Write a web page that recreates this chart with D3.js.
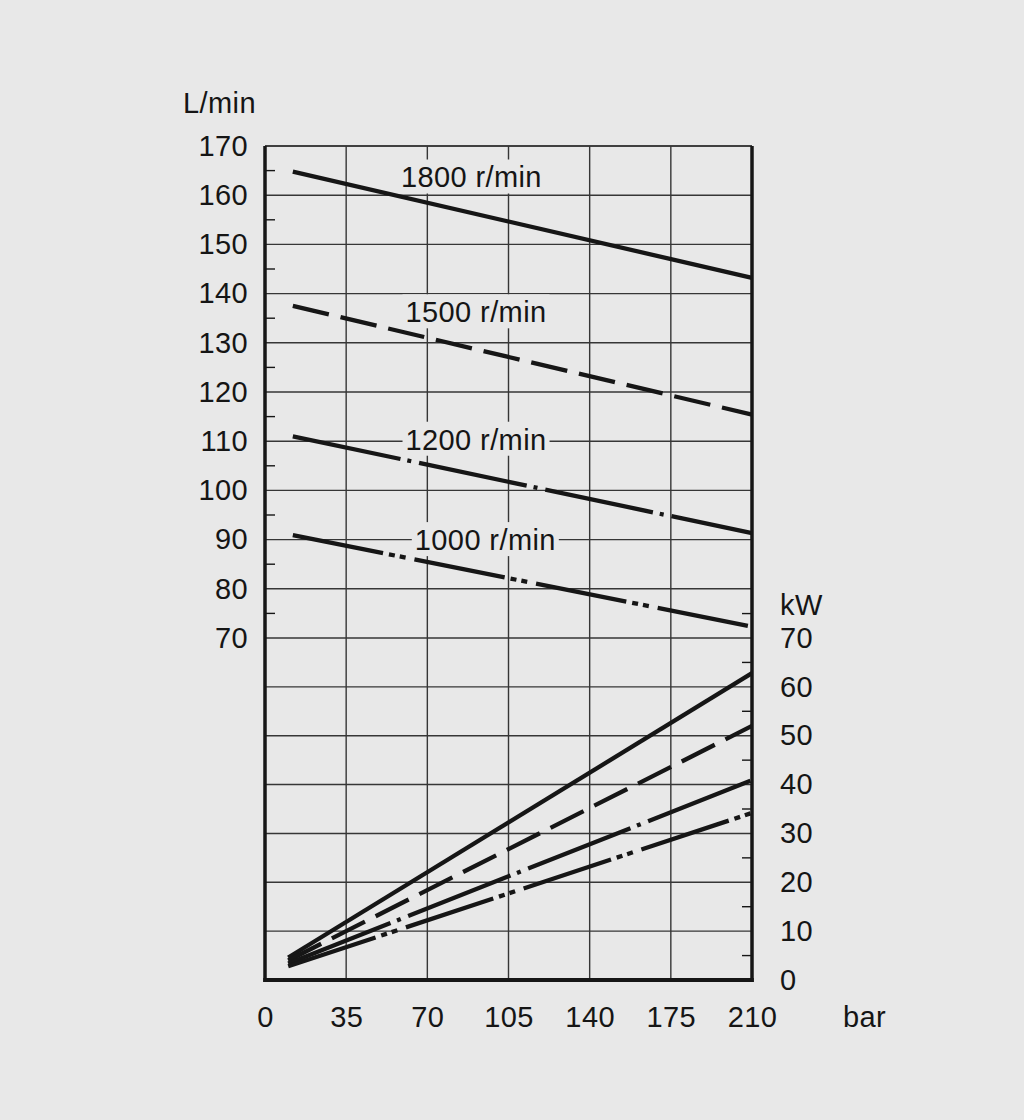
<!DOCTYPE html>
<html>
<head>
<meta charset="utf-8">
<script src="https://cdn.jsdelivr.net/npm/d3@7"></script>
<style>
  html, body { margin: 0; padding: 0; background: #e8e8e8; }
  svg { display: block; }
  text { font-family: "Liberation Sans", Arial, Helvetica, sans-serif; fill: #151515; }
</style>
</head>
<body>
<svg id="chart" width="1024" height="1120"></svg>
<script>
// ---------------- data ----------------
const pressureTicks = [0, 35, 70, 105, 140, 175, 210];          // bar
const flowTicks = [70, 80, 90, 100, 110, 120, 130, 140, 150, 160, 170]; // L/min
const powerTicks = [0, 10, 20, 30, 40, 50, 60, 70];             // kW
const speedLabels = ["1800 r/min", "1500 r/min", "1200 r/min", "1000 r/min"];

const flowPressure = [12, 210];
const flow1800 = [164.8, 143.2];
const flow1500 = [137.5, 115.4];
const flow1200 = [111.0, 91.3];
const flow1000 = [90.9, 72.3];

const powerPressure = [10, 210];
const power1800 = [4.6, 62.8];
const power1500 = [4.0, 52.0];
const power1200 = [3.4, 40.9];
const power1000 = [2.8, 34.2];

// ---------------- drawing ----------------
const svg = d3.select("#chart");
const W = 1024, H = 1120;
svg.append("rect").attr("width", W).attr("height", H).attr("fill", "#e8e8e8");

const X0 = 265, X1 = 752, YT = 146, YB = 980;
const x = d3.scaleLinear().domain([0, 210]).range([X0, X1]);
const yL = d3.scaleLinear().domain([70, 170]).range([638, YT]);
const yK = d3.scaleLinear().domain([0, 70]).range([YB, 638]);

const ink = "#161616";
const gridCol = "#363636";
const fs = 29, ls = 0.4;

// grid
const grid = svg.append("g");
grid.selectAll("line.v").data(pressureTicks.slice(1, -1)).join("line")
  .attr("x1", d => x(d)).attr("x2", d => x(d))
  .attr("y1", YT).attr("y2", YB)
  .attr("stroke", gridCol).attr("stroke-width", 1.4);
grid.selectAll("line.hf").data(flowTicks).join("line")
  .attr("x1", X0).attr("x2", X1)
  .attr("y1", d => yL(d)).attr("y2", d => yL(d))
  .attr("stroke", gridCol).attr("stroke-width", 1.4);
grid.selectAll("line.hk").data(powerTicks.filter(d => d > 0 && d < 70)).join("line")
  .attr("class", "hk")
  .attr("x1", X0).attr("x2", X1)
  .attr("y1", d => yK(d)).attr("y2", d => yK(d))
  .attr("stroke", gridCol).attr("stroke-width", 1.4);

// minor ticks
const flowMinor = flowTicks.slice(0, -1).map(d => d + 5);
const powerMinor = powerTicks.map(d => d + 5);
svg.append("g").selectAll("line").data(flowMinor).join("line")
  .attr("x1", X0).attr("x2", X0 + 10)
  .attr("y1", d => yL(d)).attr("y2", d => yL(d))
  .attr("stroke", ink).attr("stroke-width", 1.4);
svg.append("g").selectAll("line").data(powerMinor).join("line")
  .attr("x1", X1 - 10).attr("x2", X1)
  .attr("y1", d => yK(d)).attr("y2", d => yK(d))
  .attr("stroke", ink).attr("stroke-width", 1.4);

// speed labels with background
const labelAnchors = [[89, 163.7], [91, 136.3], [91, 110.4], [95, 90.0]];
const lab = svg.append("g");
speedLabels.forEach((s, i) => {
  const g = lab.append("g");
  const t = g.append("text")
    .attr("x", x(labelAnchors[i][0]))
    .attr("y", yL(labelAnchors[i][1]) + 10.5)
    .attr("text-anchor", "middle")
    .attr("font-size", fs)
    .attr("letter-spacing", ls)
    .text(s);
  const bb = t.node().getBBox();
  g.insert("rect", "text")
    .attr("x", bb.x - 3).attr("y", bb.y - 2)
    .attr("width", bb.width + 6).attr("height", bb.height + 2)
    .attr("fill", "#e8e8e8");
});

// curves
const line = d3.line().x(d => d[0]).y(d => d[1]);
const dashes = [null, "37,12", "110,7,4,8", "92,6,6,5,6,9"];
const flows = [flow1800, flow1500, flow1200, flow1000];
const powers = [power1800, power1500, power1200, power1000];
const curves = svg.append("g");
flows.forEach((f, i) => {
  const pts = flowPressure.map((p, j) => [x(p), yL(f[j])]);
  curves.append("path").attr("d", line(pts))
    .attr("fill", "none").attr("stroke", ink).attr("stroke-width", 4.3)
    .attr("stroke-dasharray", dashes[i]);
});
powers.forEach((f, i) => {
  const pts = powerPressure.map((p, j) => [x(p), yK(f[j])]);
  curves.append("path").attr("d", line(pts))
    .attr("fill", "none").attr("stroke", ink).attr("stroke-width", 4.3)
    .attr("stroke-dasharray", dashes[i]);
});

// frame: top thin, left/right/bottom thick
svg.append("line").attr("x1", X0).attr("x2", X1).attr("y1", YT).attr("y2", YT)
  .attr("stroke", gridCol).attr("stroke-width", 1.4);
svg.append("line").attr("x1", X0).attr("x2", X0).attr("y1", YT).attr("y2", YB + 2)
  .attr("stroke", ink).attr("stroke-width", 3.5);
svg.append("line").attr("x1", X1).attr("x2", X1).attr("y1", YT).attr("y2", YB + 2)
  .attr("stroke", ink).attr("stroke-width", 3.5);
svg.append("line").attr("x1", X0 - 1.75).attr("x2", X1 + 1.75).attr("y1", YB).attr("y2", YB)
  .attr("stroke", ink).attr("stroke-width", 4);

// axis labels via d3 axes
function styleAxis(g) {
  g.select(".domain").remove();
  g.selectAll(".tick line").remove();
  g.selectAll("text").attr("font-size", fs).attr("font-family", null)
    .attr("letter-spacing", ls).attr("fill", ink);
}
svg.append("g").attr("transform", `translate(${X0},0)`)
  .call(d3.axisLeft(yL).tickValues(flowTicks).tickSize(0).tickPadding(17))
  .call(styleAxis);
svg.append("g").attr("transform", `translate(${X1},0)`)
  .call(d3.axisRight(yK).tickValues(powerTicks).tickSize(0).tickPadding(28))
  .call(styleAxis);
const xa = svg.append("g").attr("transform", `translate(0,${YB})`)
  .call(d3.axisBottom(x).tickValues(pressureTicks).tickSize(0))
  .call(styleAxis);
xa.selectAll("text").attr("y", 37).attr("dy", "0.35em");

// unit labels
svg.append("text").attr("x", 183).attr("y", 103).attr("dy", "0.35em")
  .attr("font-size", fs).attr("letter-spacing", ls).text("L/min");
svg.append("text").attr("x", 780).attr("y", 605).attr("dy", "0.35em")
  .attr("font-size", fs).attr("letter-spacing", ls).text("kW");
svg.append("text").attr("x", 843).attr("y", 1017).attr("dy", "0.35em")
  .attr("font-size", fs).attr("letter-spacing", ls).text("bar");
</script>
</body>
</html>
